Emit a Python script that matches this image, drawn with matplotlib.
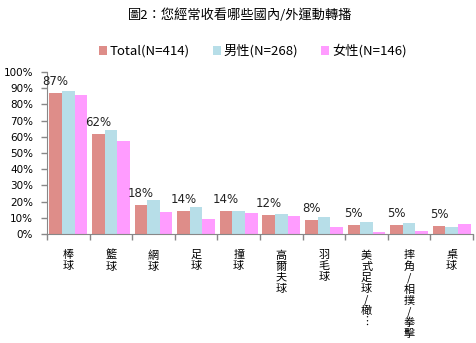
import matplotlib
matplotlib.use('Agg')
import matplotlib.pyplot as plt
import numpy as np

plt.rcParams['font.family'] = ['Noto Sans CJK TC', 'DejaVu Sans']

title = '圖2：您經常收看哪些國內/外運動轉播'
categories = ['棒球', '籃球', '網球', '足球', '撞球', '高爾夫球', '羽毛球',
              '美式足球/橄︙', '摔角/相撲/拳擊', '桌球']
series_names = ['Total(N=414)', '男性(N=268)', '女性(N=146)']
total = [87, 62, 18, 14, 14, 12, 8.5, 5.5, 5.5, 5]
male = [88.3, 64.2, 21, 16.7, 14.2, 12.3, 10.5, 7.4, 6.8, 4.3]
female = [85.8, 57.4, 13.6, 9.3, 13, 11.1, 4.3, 1.2, 1.9, 6.2]
total_labels = ['87%', '62%', '18%', '14%', '14%', '12%', '8%', '5%', '5%', '5%']
colors = ['#DE8D89', '#B7DEE8', '#FF9CFF']

fig = plt.figure(figsize=(4.76, 3.43), dpi=100)
ax = fig.add_axes([47 / 476, 1 - 234 / 343, 426 / 476, 162 / 343])

x = np.arange(len(categories))
w = 0.297
for i, (vals, name) in enumerate(zip([total, male, female], series_names)):
    ax.bar(x + (i - 1) * w, vals, w, color=colors[i], label=name)

for xi, v, lab in zip(x, total, total_labels):
    ax.text(xi - w, v + 3, lab, ha='center', va='bottom', fontsize=8.5,
            family='DejaVu Sans', color='#222222')

ax.set_xlim(-0.5, len(categories) - 0.5)
ax.set_ylim(0, 100)
ax.set_yticks(np.arange(0, 101, 10))
ax.set_yticklabels([f'{v}%' for v in range(0, 101, 10)], fontsize=7.5,
                   family='DejaVu Sans')
ax.set_xticks(np.arange(-0.5, len(categories), 1))
ax.set_xticklabels([])
ax.tick_params(axis='both', direction='out', length=4, color='#888888', width=1)
ax.tick_params(axis='y', length=4, pad=6)
for s in ['top', 'right']:
    ax.spines[s].set_visible(False)
for s in ['left', 'bottom']:
    ax.spines[s].set_color('#888888')

for xi, cat in zip(x, categories):
    ax.text(xi, -10, '\n'.join(cat), ha='center', va='top', fontsize=8,
            linespacing=1.12, transform=ax.transData, clip_on=False)

fig.text(0.505, 0.955, title, ha='center', va='center', fontsize=9.5)
leg = fig.legend(loc='center', bbox_to_anchor=(0.531, 0.851), ncol=3, frameon=False,
                 fontsize=9.5, handlelength=0.6, handleheight=0.6,
                 handletextpad=0.25, columnspacing=1.7)

fig.savefig('out.png', dpi=100)
